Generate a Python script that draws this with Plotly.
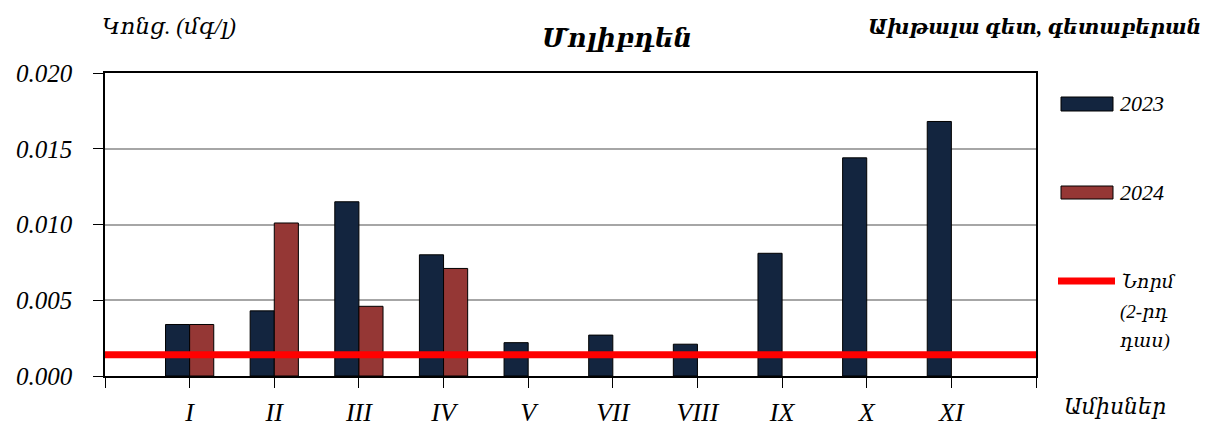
import plotly.graph_objects as go

# Molybdenum concentration by month (mg/l)
months = ["I", "II", "III", "IV", "V", "VII", "VIII", "IX", "X", "XI"]
conc_2023 = [0.0034, 0.0043, 0.0115, 0.0080, 0.0022, 0.0027, 0.0021,
             0.0081, 0.0144, 0.0168]
conc_2024 = [0.0034, 0.0101, 0.0046, 0.0071, None, None, None,
             None, None, None]
norm_value = 0.0014
y_ticks = [0.000, 0.005, 0.010, 0.015, 0.020]

NAVY = '#13253f'
BROWN = '#953735'
RED = '#ff0000'
FONT = 'Liberation Serif, DejaVu Serif, serif'

W, H = 1206, 428
L, R, T, B = 105, 170, 73, 52


def px(x):
    # pixel column -> paper x
    return (x - L) / (W - L - R)


def py(y):
    # pixel row -> paper y
    return (H - B - y) / (H - T - B)


x_pos = list(range(1, len(months) + 1))

fig = go.Figure()

fig.add_trace(go.Bar(x=x_pos, y=conc_2023, name='2023',
                     marker=dict(color=NAVY,
                                 line=dict(color='#000000', width=1))))
fig.add_trace(go.Bar(x=x_pos, y=conc_2024, name='2024',
                     marker=dict(color=BROWN,
                                 line=dict(color='#000000', width=1))))

# Norm line (2nd class) across the whole axis
fig.add_trace(go.Scatter(x=[0, len(months) + 1], y=[norm_value, norm_value],
                         mode='lines', name='Նորմ (2-րդ դաս)',
                         line=dict(color=RED, width=7)))

annotations = [
    dict(text='<b>Մոլիբդեն</b>', x=px(617), y=py(38), font_size=26),
    dict(text='Կոնց. (մգ/լ)', x=px(169), y=py(27), font_size=23),
    dict(text='<b>Ախթալա գետ, գետաբերան</b>', x=px(1034), y=py(27),
         font_size=20.5),
    dict(text='Ամիսներ', x=px(1115), y=py(406), font_size=22),
    dict(text='2023', x=px(1118), y=py(103), xanchor='left', font_size=22),
    dict(text='2024', x=px(1118), y=py(192), xanchor='left', font_size=22),
    dict(text='Նորմ', x=px(1120), y=py(281), xanchor='left', font_size=19),
    dict(text='(2-րդ', x=px(1118), y=py(312), xanchor='left', font_size=19),
    dict(text='դաս)', x=px(1118), y=py(341), xanchor='left', font_size=19),
]
for a in annotations:
    a.update(xref='paper', yref='paper', showarrow=False,
             font=dict(family=FONT, color='#000000', size=a.pop('font_size'),
                       style='italic'))
    a.setdefault('xanchor', 'center')
    a['yanchor'] = 'middle'

shapes = [
    dict(type='rect', xref='paper', yref='paper',
         x0=px(1061), x1=px(1113), y0=py(111), y1=py(97),
         fillcolor=NAVY, line=dict(color='#000000', width=1)),
    dict(type='rect', xref='paper', yref='paper',
         x0=px(1061), x1=px(1113), y0=py(199), y1=py(186),
         fillcolor=BROWN, line=dict(color='#000000', width=1)),
    dict(type='line', xref='paper', yref='paper',
         x0=px(1058), x1=px(1115), y0=py(281), y1=py(281),
         line=dict(color=RED, width=7)),
]

fig.update_layout(
    width=W,
    height=H,
    margin=dict(l=L, r=R, t=T, b=B),
    paper_bgcolor='white',
    plot_bgcolor='white',
    barmode='group',
    bargap=0.43,
    bargroupgap=0,
    showlegend=False,
    annotations=annotations,
    shapes=shapes,
    font=dict(family=FONT, color='#000000'),
)

fig.update_xaxes(
    range=[0, len(months) + 1],
    tickmode='array',
    tickvals=list(range(0, len(months) + 2)),
    ticktext=[''] + months + [''],
    ticks='outside', ticklen=10, tickcolor='#000000', tickwidth=1,
    showline=True, linecolor='#000000', linewidth=1.5, mirror=True,
    showgrid=False, zeroline=False, automargin=False,
    ticklabelstandoff=2,
    tickfont=dict(family=FONT, size=26, style='italic'),
)
fig.update_yaxes(
    range=[0, 0.020],
    tickmode='array',
    tickvals=y_ticks,
    ticktext=[f'{v:.3f}' for v in y_ticks],
    ticks='outside', ticklen=10, tickcolor='#000000', tickwidth=1,
    showline=True, linecolor='#000000', linewidth=1.5, mirror=True,
    showgrid=True, gridcolor='#a6a6a6', gridwidth=1.5, zeroline=False,
    automargin=False,
    ticklabelstandoff=16,
    tickfont=dict(family=FONT, size=25, style='italic'),
)

# drop the browser's default body margin so the figure sits at the page origin
fig.write_html("out.html", config={'displayModeBar': False},
               post_script="document.body.style.margin = '0';")
